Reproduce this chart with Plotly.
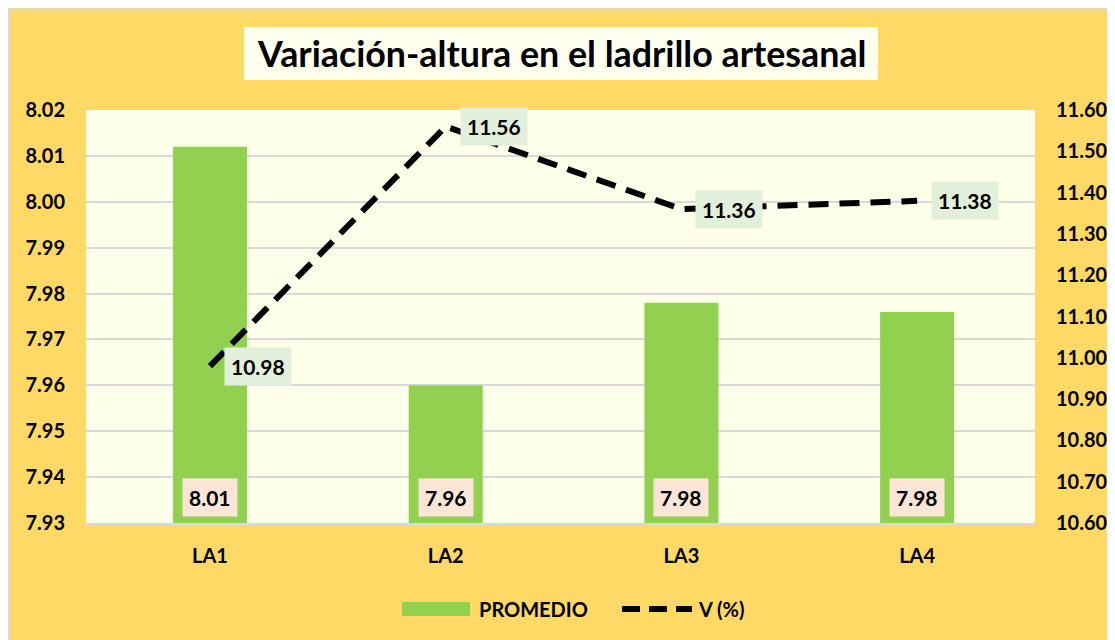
import plotly.graph_objects as go

categories = ["LA1", "LA2", "LA3", "LA4"]
promedio = [8.012, 7.960, 7.978, 7.976]
promedio_labels = ["8.01", "7.96", "7.98", "7.98"]
variacion = [10.98, 11.56, 11.36, 11.38]
variacion_labels = ["10.98", "11.56", "11.36", "11.38"]
left_ticks = [7.93, 7.94, 7.95, 7.96, 7.97, 7.98, 7.99, 8.00, 8.01, 8.02]
right_ticks = [10.6, 10.7, 10.8, 10.9, 11.0, 11.1, 11.2, 11.3, 11.4, 11.5, 11.6]

FONT = "Lato"
W, H = 1115, 640
OFF = 8  # page body margin
# plot area in page pixels
PL, PR, PT, PB = 86, 1035, 110, 523
L, T = PL - OFF, PT - OFF
R = W - (PR - OFF)
B = H - (PB - OFF)
pw, ph = PR - PL, PB - PT


def px_x(p):
    return (p - PL) / pw


def px_y(p):
    return (PB - p) / ph


fig = go.Figure()
fig.add_trace(go.Bar(
    x=categories, y=promedio, name="PROMEDIO",
    marker=dict(color="#92D050", line=dict(width=0)),
    width=0.314, yaxis="y", showlegend=False,
))
fig.add_trace(go.Scatter(
    x=categories, y=variacion, name="V (%)", mode="lines",
    line=dict(color="black", width=6, dash="20px,11px"),
    yaxis="y2", showlegend=False,
))

annotations = []
for c, t in zip(categories, promedio_labels):
    annotations.append(dict(
        x=c, y=7.93, xref="x", yref="y", text=t, showarrow=False,
        yanchor="bottom", yshift=6,
        font=dict(family=FONT, size=21, color="black", weight="bold"),
        bgcolor="#FBE5D6", borderpad=6,
    ))
for c, v, t in zip(categories, variacion, variacion_labels):
    annotations.append(dict(
        x=c, y=v, xref="x", yref="y2", text=t, showarrow=False,
        xanchor="left", xshift=14,
        font=dict(family=FONT, size=21, color="black", weight="bold"),
        bgcolor="#E2EFDA", borderpad=6,
    ))
# title
annotations.append(dict(
    x=px_x(561), y=px_y(54), xref="paper", yref="paper",
    xanchor="center", yanchor="middle",
    text="Variación-altura en el ladrillo artesanal", showarrow=False,
    font=dict(family=FONT, size=35.8, color="black", weight="bold"),
))
# legend texts
annotations.append(dict(
    x=px_x(477), y=px_y(609), xref="paper", yref="paper",
    xanchor="left", yanchor="middle",
    text="PROMEDIO", showarrow=False,
    font=dict(family=FONT, size=20, color="black", weight="bold"),
))
annotations.append(dict(
    x=px_x(696), y=px_y(609), xref="paper", yref="paper",
    xanchor="left", yanchor="middle",
    text="V (%)", showarrow=False,
    font=dict(family=FONT, size=20, color="black", weight="bold"),
))

shapes = [
    # chart border (top / left)
    dict(type="line", xref="paper", yref="paper", x0=px_x(9), x1=px_x(W + 20), y0=px_y(9.5), y1=px_y(9.5),
         line=dict(color="#D9D9D9", width=2), layer="below"),
    dict(type="line", xref="paper", yref="paper", x0=px_x(9), x1=px_x(9), y0=px_y(9.5), y1=px_y(H + 20),
         line=dict(color="#D9D9D9", width=2), layer="below"),
    # title box
    dict(type="rect", xref="paper", yref="paper", x0=px_x(244), x1=px_x(878), y0=px_y(80), y1=px_y(27),
         fillcolor="#FEFFEC", line=dict(width=0), layer="below"),
    # legend swatches
    dict(type="rect", xref="paper", yref="paper", x0=px_x(402), x1=px_x(470), y0=px_y(616), y1=px_y(602),
         fillcolor="#92D050", line=dict(width=0)),
    dict(type="line", xref="paper", yref="paper", x0=px_x(622), x1=px_x(692), y0=px_y(609), y1=px_y(609),
         line=dict(color="black", width=6, dash="18px,9px")),
]

tickfont = dict(family=FONT, size=20, color="black", weight="bold")
fig.update_layout(
    width=W, height=H,
    margin=dict(l=L, r=R, t=T, b=B),
    paper_bgcolor="#FED966",
    plot_bgcolor="#FEFFE8",
    showlegend=False,
    xaxis=dict(type="category", range=[-0.526, 3.5], showgrid=False, zeroline=False,
               showline=True, linecolor="#D9D9D9", linewidth=2, ticks="",
               tickfont=tickfont, ticklabelstandoff=14),
    yaxis=dict(range=[7.93, 8.02], tickvals=left_ticks, tickformat=".2f",
               showgrid=True, gridcolor="#D9D9D9", gridwidth=2, zeroline=False,
               ticks="", tickfont=tickfont, ticklabelstandoff=20),
    yaxis2=dict(range=[10.6, 11.6], tickvals=right_ticks, tickformat=".2f",
                overlaying="y", side="right", showgrid=False, zeroline=False,
                ticks="", tickfont=tickfont, ticklabelstandoff=20),
    annotations=annotations,
    shapes=shapes,
)

fig.write_html("out.html")
